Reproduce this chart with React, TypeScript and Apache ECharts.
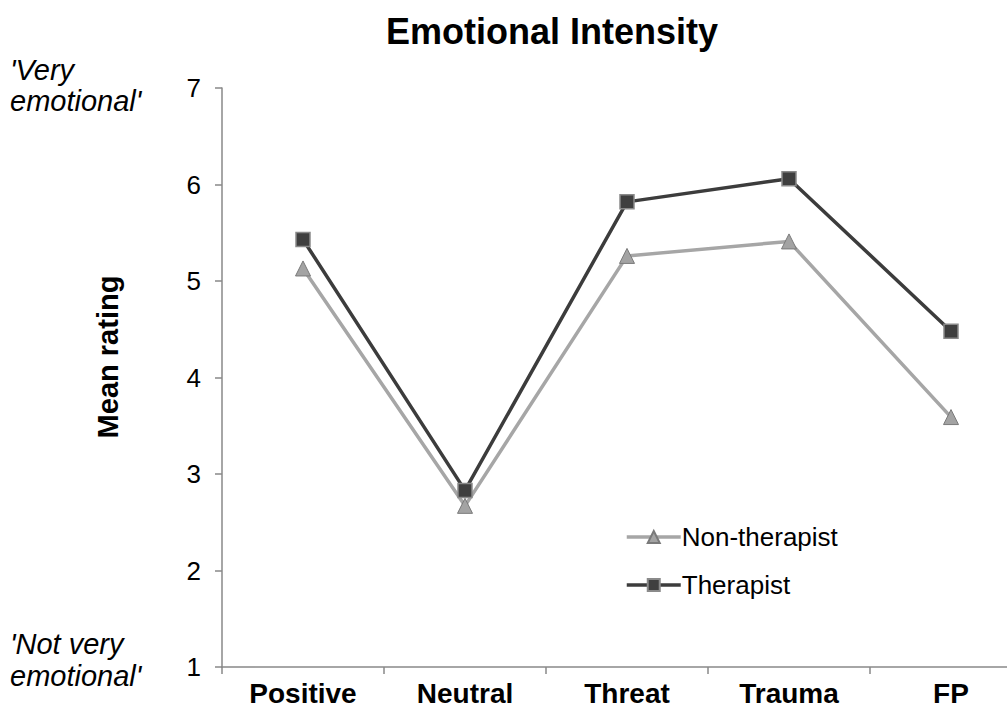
import React, { useEffect, useRef } from "react";
import * as echarts from "echarts";

const categories = ["Positive", "Neutral", "Threat", "Trauma", "FP"];
const nonTherapist = [5.13, 2.67, 5.26, 5.41, 3.59];
const therapist = [5.43, 2.83, 5.82, 6.06, 4.48];
const yMin = 1;
const yMax = 7;

const FONT = "Liberation Sans, Arial, Helvetica, sans-serif";

export default function App() {
  const ref = useRef<HTMLDivElement>(null);
  useEffect(() => {
    const chart = echarts.init(ref.current!, null, { renderer: "svg" });
    const italic = "italic 29px " + FONT;
    chart.setOption({
      animation: false,
      backgroundColor: "#ffffff",
      textStyle: { fontFamily: FONT },
      title: {
        text: "Emotional Intensity",
        left: 547,
        textAlign: "center",
        top: 8,
        textStyle: { fontSize: 36, fontWeight: "bold", color: "#000", fontFamily: FONT },
      },
      legend: {
        orient: "vertical",
        left: 620,
        top: 519,
        itemWidth: 54,
        itemHeight: 15,
        itemGap: 22,
        lineStyle: { width: 3.5 },
        textStyle: { fontSize: 26, lineHeight: 26, color: "#000", fontFamily: FONT, padding: [0, 0, 0, -4] },
        data: ["Non-therapist", "Therapist"],
      },
      grid: { left: 222, top: 88, height: 579, width: 810, containLabel: false },
      xAxis: {
        type: "category",
        data: categories,
        boundaryGap: true,
        axisLine: { lineStyle: { color: "#888", width: 1.5 } },
        axisTick: { show: true, length: 7, alignWithLabel: false, lineStyle: { color: "#888", width: 1.5 } },
        axisLabel: { fontSize: 28, fontWeight: "bold", color: "#000", margin: 12, fontFamily: FONT },
      },
      yAxis: {
        type: "value",
        min: yMin,
        max: yMax,
        interval: 1,
        splitLine: { show: false },
        axisLine: { show: true, lineStyle: { color: "#888", width: 1.5 } },
        axisTick: { show: true, length: 7, lineStyle: { color: "#888", width: 1.5 } },
        axisLabel: { fontSize: 26, color: "#000", margin: 21, fontFamily: FONT },
      },
      graphic: [
        {
          type: "text",
          x: 108,
          y: 357,
          rotation: Math.PI / 2,
          style: {
            text: "Mean rating",
            font: "bold 29px " + FONT,
            fill: "#000",
            align: "center",
            verticalAlign: "middle",
          },
        },
        {
          type: "text",
          left: 10,
          top: 55,
          style: { text: "'Very", font: italic, fill: "#000", lineHeight: 29 },
        },
        {
          type: "text",
          left: 10,
          top: 86,
          style: { text: "emotional'", font: italic, fill: "#000", lineHeight: 29 },
        },
        {
          type: "text",
          left: 10,
          top: 629,
          style: { text: "'Not very", font: italic, fill: "#000", lineHeight: 30 },
        },
        {
          type: "text",
          left: 10,
          top: 661,
          style: { text: "emotional'", font: italic, fill: "#000", lineHeight: 30 },
        },
      ],
      series: [
        {
          name: "Non-therapist",
          type: "line",
          data: nonTherapist,
          symbol: "triangle",
          symbolSize: 15,
          lineStyle: { color: "#a6a6a6", width: 3.5 },
          itemStyle: { color: "#a3a3a3", borderColor: "#7a7a7a", borderWidth: 1 },
          z: 2,
        },
        {
          name: "Therapist",
          type: "line",
          data: therapist,
          symbol: "rect",
          symbolSize: 14,
          lineStyle: { color: "#3c3c3c", width: 3.5 },
          itemStyle: { color: "#3f3f3f", borderColor: "#8a8a8a", borderWidth: 1.5 },
          z: 3,
        },
      ],
    });
    return () => chart.dispose();
  }, []);
  return (
    <div style={{ position: "absolute", left: 0, top: 0, width: 1007, height: 716, overflow: "hidden" }}>
      <div ref={ref} style={{ width: 1040, height: 716, position: "absolute", left: 0, top: 0 }} />
    </div>
  );
}
